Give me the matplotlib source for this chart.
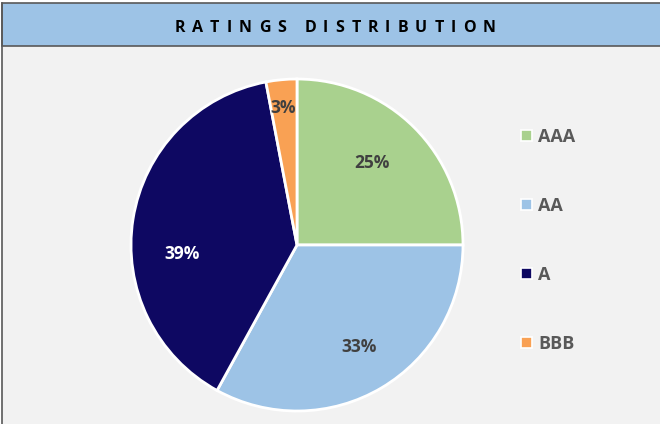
import matplotlib.pyplot as plt
from matplotlib.patches import Rectangle, Patch

ratings = ['AAA', 'AA', 'A', 'BBB']
shares = [25, 33, 39, 3]
colors = ['#A9D18E', '#9DC3E6', '#0E0862', '#F9A154']
label_colors = ['#404040', '#404040', 'white', '#404040']
title = 'RATINGS DISTRIBUTION'

W, H = 660, 424
fig = plt.figure(figsize=(W / 100, H / 100), dpi=100)
fig.patch.set_facecolor('white')

# frame: body + header band
bg = fig.add_axes([0, 0, 1, 1])
bg.set_xlim(0, W)
bg.set_ylim(H, 0)
bg.axis('off')
bg.add_patch(Rectangle((2, 46), W, H, facecolor='#F2F2F2', edgecolor='none'))
bg.add_patch(Rectangle((2, 3), W, 43, facecolor='#9DC3E6', edgecolor='#595959', linewidth=1.2))
bg.plot([2, 2], [3, H], color='#595959', linewidth=1.2)

# letter-spaced title, each glyph placed by its own width
renderer = fig.canvas.get_renderer()
tracking = 7
glyphs = []
for ch in title:
    t = bg.text(0, 27.5, ch if ch != ' ' else 'I', fontsize=11.5, fontweight='bold',
                ha='left', va='center', color='black', family='Open Sans')
    w = t.get_window_extent(renderer).width
    if ch == ' ':
        t.remove()
        t = None
        w *= 0.8
    glyphs.append((t, w))
total = sum(w for _, w in glyphs) + tracking * (len(glyphs) - 1)
x = 335 - total / 2
for t, w in glyphs:
    if t is not None:
        t.set_x(x)
    x += w + tracking

# pie
cx, cy, r = 297, 245, 166
ax = fig.add_axes([(cx - r) / W, 1 - (cy + r) / H, 2 * r / W, 2 * r / H])
wedges, texts, autotexts = ax.pie(
    shares, colors=colors, startangle=90, counterclock=False,
    autopct='%d%%', pctdistance=0.69,
    wedgeprops=dict(edgecolor='white', linewidth=2))
ax.set_xlim(-1.0, 1.0)
ax.set_ylim(-1.0, 1.0)
ax.set_aspect('equal')
# label spots as the spreadsheet placed them (fraction of radius)
label_pos = [(0.452, 0.494), (0.373, -0.614), (-0.693, -0.054), (-0.084, 0.825)]
for t, c, p in zip(autotexts, label_colors, label_pos):
    t.set_color(c)
    t.set_fontsize(12.5)
    t.set_fontweight('bold')
    t.set_family('Open Sans')
    t.set_position(p)

handles = [Patch(facecolor=c, edgecolor='white', linewidth=1.2) for c in colors]
leg = fig.legend(handles, ratings, loc='upper left',
                 bbox_to_anchor=(512 / W, 1 - 119 / H),
                 frameon=False, handlelength=0.6, handleheight=0.6,
                 handletextpad=0.35, labelspacing=2.82, borderpad=0,
                 prop=dict(family='Open Sans', weight='bold', size=13))
for t in leg.get_texts():
    t.set_color('#595959')

fig.savefig('out.png', dpi=100)
